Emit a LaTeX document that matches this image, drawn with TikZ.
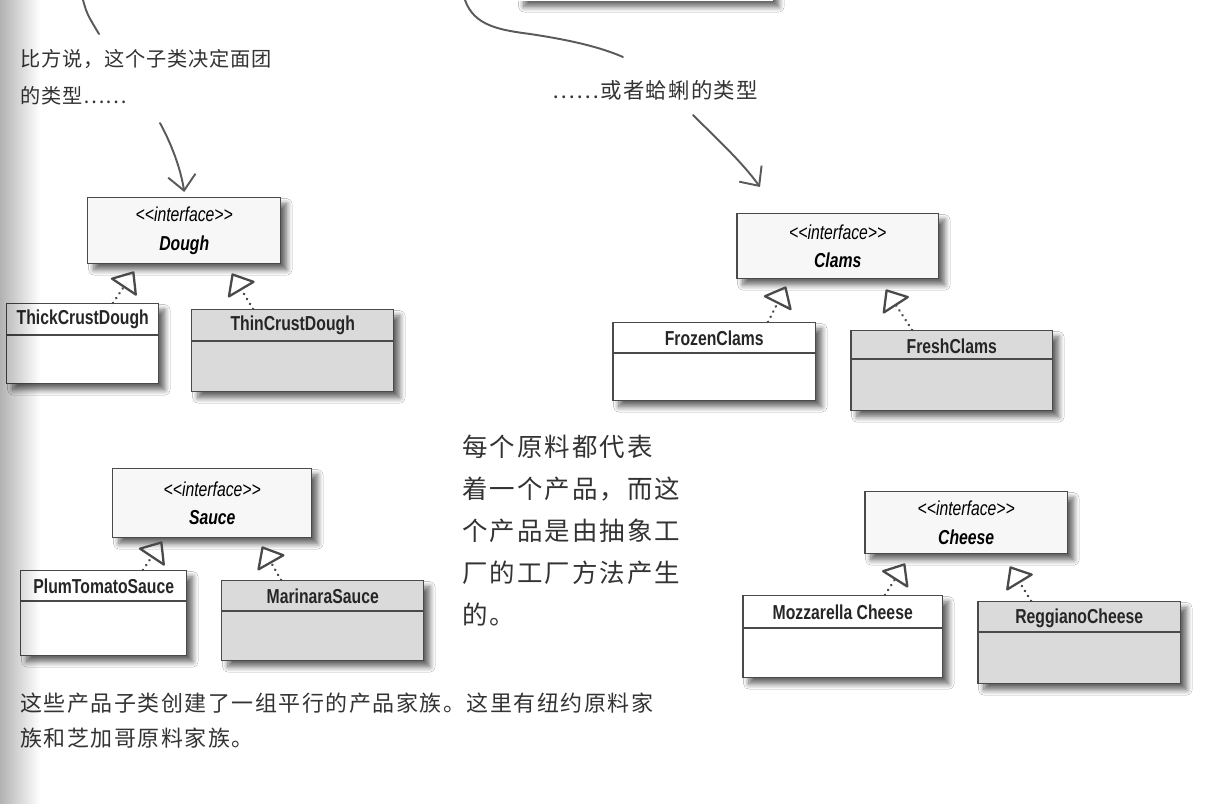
\documentclass[tikz,border=0pt]{standalone}
\usepackage{fontspec}
\setmainfont{Liberation Sans}
\newfontfamily\umlfont[FakeStretch=0.78]{Liberation Sans}
\newfontfamily\cjk{Noto Sans CJK SC}
\usetikzlibrary{arrows.meta,positioning,shadows.blur,fadings}
\definecolor{hfink}{HTML}{333333}
\definecolor{hfline}{HTML}{4A4A4A}
\definecolor{hfgray}{HTML}{DADADA}
\definecolor{hfpen}{HTML}{5A5A5A}
\newcommand{\stereo}{\textless\textless interface\textgreater\textgreater}
\tikzset{
  cls/.style={draw=hfline, line width=0.85pt, fill=white, anchor=north west, inner sep=0pt,
    blur shadow={shadow xshift=3.5pt, shadow yshift=-3.5pt, shadow blur steps=8, shadow blur radius=3pt, shadow opacity=60}},
  clsg/.style={cls, fill=hfgray},
  iface/.style={cls, fill=black!3, align=center, font=\umlfont\fontsize{11.5}{16}\selectfont},
  cname/.style={font=\umlfont\bfseries\fontsize{11.5}{13}\selectfont, text=black!85, inner sep=0pt},
  divline/.style={draw=hfline, line width=0.85pt},
  real/.style={line width=1.5pt, color=hfline, dash pattern=on 0.1pt off 3.2pt, line cap=round,
    -{Triangle[open, length=4mm, width=6.6mm, line width=1.3pt, round]}},
  pen/.style={line width=1.1pt, color=hfpen, line cap=round},
  hand/.style={pen, -{Straight Barb[length=3mm, width=5.5mm, line width=1.1pt]}},
  note/.style={anchor=north west, inner sep=0pt, align=left, text=hfink},
}

\begin{document}
\begin{tikzpicture}[x=0.02cm, y=-0.02cm]
  \useasboundingbox[fill=white] (0,0) rectangle (1227,804);

  % box cut off by the top edge
  \node[cls, draw=none, minimum width=5.1cm, minimum height=1cm] (topbox) at (517,-50) {};

  % hand-written notes
  \node[note, font=\cjk\addfontfeature{LetterSpace=4}\fontsize{11.5}{21}\selectfont] (dnote) at (20,49)
    {比方说，这个子类决定面团\\的类型……};
  \node[note, font=\cjk\addfontfeature{LetterSpace=6}\fontsize{12.2}{20}\selectfont] (cnote) at (552,80)
    {……或者蛤蜊的类型};
  \node[note, font=\cjk\addfontfeature{LetterSpace=8}\fontsize{14.5}{23.8}\selectfont] (pnote) at (462,435)
    {每个原料都代表\\着一个产品，而这\\个产品是由抽象工\\厂的工厂方法产生\\的。};
  \node[note, font=\cjk\addfontfeature{LetterSpace=7}\fontsize{12.5}{19.8}\selectfont] (fnote) at (20,693)
    {这些产品子类创建了一组平行的产品家族。这里有纽约原料家\\族和芝加哥原料家族。};

  % Dough
  \node[iface, minimum width=3.86cm, minimum height=1.32cm] (dough) at (87,197)
    {\itshape\stereo\\\bfseries\itshape Dough};
  \node[cls, minimum width=3.04cm, minimum height=1.6cm] (thick) at (6,303) {};
  \node[cname] at ([yshift=-0.32cm]thick.north) {ThickCrustDough};
  \draw[divline] ([yshift=-0.64cm]thick.north west) -- ([yshift=-0.64cm]thick.north east);
  \node[clsg, minimum width=4.04cm, minimum height=1.64cm] (thin) at (191,309) {};
  \node[cname] at ([yshift=-0.32cm]thin.north) {ThinCrustDough};
  \draw[divline] ([yshift=-0.64cm]thin.north west) -- ([yshift=-0.64cm]thin.north east);

  % Clams
  \node[iface, minimum width=4.04cm, minimum height=1.3cm] (clams) at (736,213)
    {\itshape\stereo\\\bfseries\itshape Clams};
  \node[cls, minimum width=4.06cm, minimum height=1.56cm] (frozen) at (612,322) {};
  \node[cname] at ([yshift=-0.32cm]frozen.north) {FrozenClams};
  \draw[divline] ([yshift=-0.62cm]frozen.north west) -- ([yshift=-0.62cm]frozen.north east);
  \node[clsg, minimum width=4.04cm, minimum height=1.6cm] (fresh) at (850,330) {};
  \node[cname] at ([yshift=-0.32cm]fresh.north) {FreshClams};
  \draw[divline] ([yshift=-0.58cm]fresh.north west) -- ([yshift=-0.58cm]fresh.north east);

  % Sauce
  \node[iface, minimum width=3.98cm, minimum height=1.38cm] (sauce) at (112,468)
    {\itshape\stereo\\\bfseries\itshape Sauce};
  \node[cls, minimum width=3.32cm, minimum height=1.7cm] (plum) at (20,570) {};
  \node[cname] at ([yshift=-0.32cm]plum.north) {PlumTomatoSauce};
  \draw[divline] ([yshift=-0.62cm]plum.north west) -- ([yshift=-0.62cm]plum.north east);
  \node[clsg, minimum width=4.04cm, minimum height=1.6cm] (marinara) at (221,580) {};
  \node[cname] at ([yshift=-0.32cm]marinara.north) {MarinaraSauce};
  \draw[divline] ([yshift=-0.62cm]marinara.north west) -- ([yshift=-0.62cm]marinara.north east);

  % Cheese
  \node[iface, minimum width=4.06cm, minimum height=1.24cm] (cheese) at (864,491)
    {\itshape\stereo\\\bfseries\itshape Cheese};
  \node[cls, minimum width=4.0cm, minimum height=1.64cm] (mozz) at (742,595) {};
  \node[cname] at ([yshift=-0.34cm]mozz.north) {Mozzarella Cheese};
  \draw[divline] ([yshift=-0.66cm]mozz.north west) -- ([yshift=-0.66cm]mozz.north east);
  \node[clsg, minimum width=4.06cm, minimum height=1.64cm] (reggiano) at (977,601) {};
  \node[cname] at ([yshift=-0.34cm]reggiano.north) {ReggianoCheese};
  \draw[divline] ([yshift=-0.62cm]reggiano.north west) -- ([yshift=-0.62cm]reggiano.north east);

  % realization arrows
  \draw[real] ([xshift=2.14cm]thick.north west) -- ([xshift=0.94cm, yshift=-0.14cm]dough.south west);
  \draw[real] ([xshift=1.24cm]thin.north west) -- ([xshift=2.9cm, yshift=-0.18cm]dough.south west);
  \draw[real] ([xshift=3.12cm]frozen.north west) -- ([xshift=1.0cm, yshift=-0.14cm]clams.south west);
  \draw[real] ([xshift=1.24cm]fresh.north west) -- ([xshift=3.0cm, yshift=-0.2cm]clams.south west);
  \draw[real] ([xshift=2.46cm]plum.north west) -- ([xshift=1.0cm, yshift=-0.06cm]sauce.south west);
  \draw[real] ([xshift=1.2cm]marinara.north west) -- ([xshift=3.0cm, yshift=-0.16cm]sauce.south west);
  \draw[real] ([xshift=2.86cm]mozz.north west) -- ([xshift=0.82cm, yshift=-0.18cm]cheese.south west);
  \draw[real] ([xshift=1.08cm]reggiano.north west) -- ([xshift=2.92cm, yshift=-0.24cm]cheese.south west);

  % pen strokes
  \coordinate (s1) at (83,0);
  \coordinate (s2) at (99,34);
  \coordinate (a2) at (160,123);
  \coordinate (c1) at (465,0);
  \coordinate (c2) at (623,57);
  \coordinate (a4) at (693,115);
  \coordinate (a4e) at (760,187);
  \draw[pen] (s1) .. controls (87,14) .. (s2);
  \draw[hand] (a2) .. controls (172,145) and (181,170) .. ([yshift=0.1cm]dough.north);
  \draw[pen] (c1) .. controls (474,26) and (500,30) .. (530,34) .. controls (570,40) and (600,47) .. (c2);
  \draw[hand] (a4) .. controls (718,140) and (742,162) .. (a4e);

  % page gutter
  \fill[black, opacity=0.3, path fading=east] (0,0) rectangle (40,804);
\end{tikzpicture}
\end{document}
